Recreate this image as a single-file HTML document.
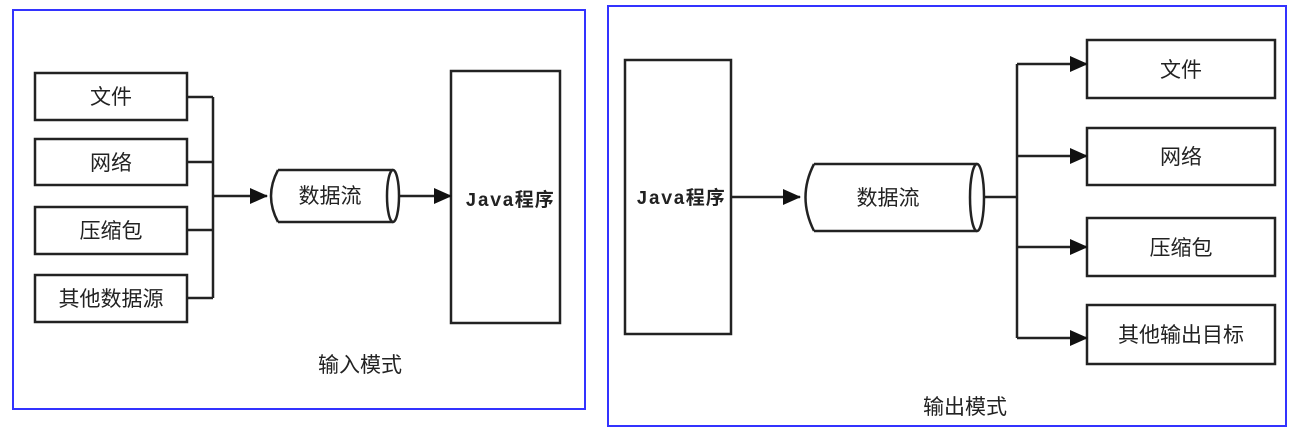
<!DOCTYPE html><html><head><meta charset="utf-8"><style>body{margin:0;background:#fff}svg text{font-family:"Liberation Sans","Noto Sans CJK SC",sans-serif;fill:#222}</style></head><body>
<svg width="1292" height="437" viewBox="0 0 1292 437" xmlns="http://www.w3.org/2000/svg">
<defs><marker id="b" markerWidth="18" markerHeight="16" refX="17" refY="8" orient="auto" markerUnits="userSpaceOnUse"><path d="M0,0 L18,8 L0,16z" fill="#111"/></marker></defs>
<g fill="none" stroke="#33f" stroke-width="2"><rect x="13" y="10" width="572" height="399"/><rect x="608" y="6" width="678" height="420"/></g>
<g fill="#fff" stroke="#222" stroke-width="2.5">
<rect x="35" y="73" width="152" height="47"/><rect x="35" y="139" width="152" height="46"/><rect x="35" y="207" width="152" height="47"/><rect x="35" y="275" width="152" height="47"/>
<rect x="451" y="71" width="109" height="252"/>
<path d="M278,170 H393 M278,222 H393 M278,170 Q264,196 278,222"/><ellipse cx="393" cy="196" rx="6" ry="26"/>
<rect x="625" y="60" width="106" height="274"/>
<path d="M814,164 H977 M814,231 H977 M814,164 Q797,197 814,231"/><ellipse cx="977" cy="197.5" rx="7" ry="33.5"/>
<rect x="1087" y="40" width="188" height="58"/><rect x="1087" y="128" width="188" height="57"/><rect x="1087" y="218" width="188" height="58"/><rect x="1087" y="305" width="188" height="59"/>
</g>
<g fill="none" stroke="#222" stroke-width="2.5">
<path d="M187,97 H213 M187,162 H213 M187,230 H213 M187,298 H213 M213,97 V298"/>
<path d="M213,196 H267" marker-end="url(#b)"/><path d="M399,196 H451" marker-end="url(#b)"/>
<path d="M731,197 H800" marker-end="url(#b)"/><path d="M984,197 H1017 M1017,64 V338"/>
<path d="M1017,64 H1087" marker-end="url(#b)"/><path d="M1017,156 H1087" marker-end="url(#b)"/><path d="M1017,247 H1087" marker-end="url(#b)"/><path d="M1017,338 H1087" marker-end="url(#b)"/>
</g>
<g font-size="21" text-anchor="middle">
<text x="111" y="104">文件</text><text x="111" y="170">网络</text><text x="111" y="238">压缩包</text><text x="111" y="306">其他数据源</text>
<text x="330" y="203">数据流</text><text x="360" y="372">输入模式</text>
<text x="888" y="205">数据流</text><text x="965" y="414">输出模式</text>
<text x="1181" y="77">文件</text><text x="1181" y="164">网络</text><text x="1181" y="255">压缩包</text><text x="1181" y="342">其他输出目标</text>
</g>
<g font-size="19" font-weight="bold" text-anchor="middle">
<text x="510" y="206" style="font-family:'Liberation Mono','Noto Sans CJK SC',monospace;letter-spacing:1px">Java程序</text>
<text x="681" y="204" style="font-family:'Liberation Mono','Noto Sans CJK SC',monospace;letter-spacing:1px">Java程序</text>
</g>
</svg></body></html>
